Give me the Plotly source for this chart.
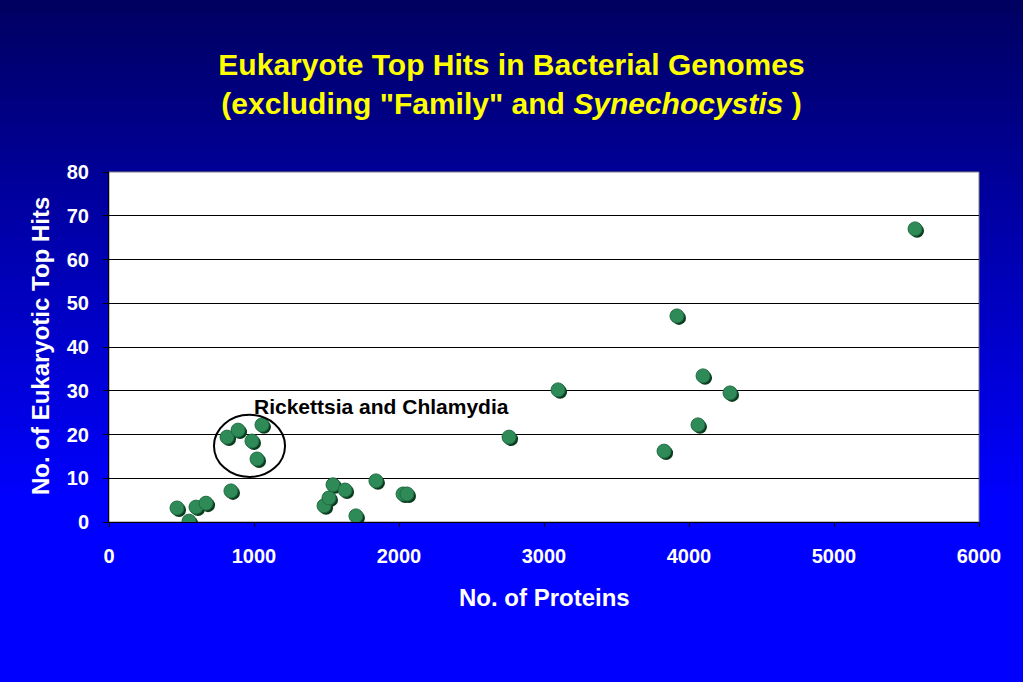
import plotly.graph_objects as go

# Data
proteins = [469, 552, 600, 669, 841, 814, 890, 986, 1021, 1055,
            1483, 1517, 1545, 1628, 1703, 1841, 2028, 2055,
            2759, 3097, 3828, 3917, 4062, 4097, 4283, 5559]
euk_hits = [3.2, 0.2, 3.4, 4.3, 7.1, 19.4, 21.0, 18.5, 14.4, 22.2,
            3.7, 5.5, 8.5, 7.3, 1.4, 9.4, 6.4, 6.4,
            19.4, 30.2, 16.2, 47.1, 22.2, 33.4, 29.5, 67.0]
x_ticks = [0, 1000, 2000, 3000, 4000, 5000, 6000]
y_ticks = [0, 10, 20, 30, 40, 50, 60, 70, 80]

W, H = 1023, 682
ML, MR, MT, MB = 109, 44, 172, 160
PW = W - ML - MR
PH = H - MT - MB

FONT = "Liberation Sans, Arial, sans-serif"

fig = go.Figure()

# shadow
fig.add_trace(go.Scatter(
    x=[v + 14 for v in proteins], y=[v - 0.45 for v in euk_hits],
    mode="markers", hoverinfo="skip",
    marker=dict(size=14, color="#0b3b1e", line=dict(width=0)),
))
fig.add_trace(go.Scatter(
    x=proteins, y=euk_hits, mode="markers",
    marker=dict(size=14, color="#2e8b57", line=dict(width=1, color="#1f6b40")),
))

# gradient background bands (paper coords)
shapes = []
n = 70
grad_end = 500  # pixel where it becomes pure blue
top_rgb = (0, 0, 96)
bot_rgb = (0, 0, 255)
for i in range(n):
    p0 = grad_end * i / n
    p1 = grad_end * (i + 1) / n + 1
    t = (i + 0.5) / n
    c = tuple(int(round(top_rgb[k] + (bot_rgb[k] - top_rgb[k]) * t)) for k in range(3))
    shapes.append(dict(type="rect", xref="paper", yref="paper",
                       x0=-1, x1=2,
                       y0=(H - MB - p1) / PH, y1=(H - MB - p0) / PH,
                       fillcolor="rgb(%d,%d,%d)" % c, line=dict(width=0), layer="below"))
shapes.append(dict(type="rect", xref="paper", yref="paper", x0=-1, x1=2,
                   y0=-2, y1=(H - MB - grad_end) / PH,
                   fillcolor="rgb(0,0,255)", line=dict(width=0), layer="below"))
# white plot area
shapes.append(dict(type="rect", xref="paper", yref="paper", x0=0, x1=1, y0=0, y1=1,
                   fillcolor="white", line=dict(width=1, color="#808080"), layer="below"))
# ellipse highlight
shapes.append(dict(type="circle", xref="x", yref="y", x0=724, x1=1214, y0=10.3, y1=24.5,
                   line=dict(color="black", width=2), fillcolor="rgba(0,0,0,0)"))

fig.update_layout(
    width=W, height=H,
    margin=dict(l=ML, r=MR, t=MT, b=MB),
    paper_bgcolor="rgb(0,0,255)", plot_bgcolor="white",
    showlegend=False,
    shapes=shapes,
    title=dict(
        text='Eukaryote Top Hits in Bacterial Genomes<br>(excluding "Family" and <i>Synechocystis</i> )',
        x=0.5, xanchor="center", xref="container",
        y=1 - 75 / H, yanchor="middle", yref="container",
        font=dict(family=FONT, size=30, color="#ffff00", weight="bold"),
    ),
    font=dict(family=FONT, color="white"),
    annotations=[
        dict(text="<b>Rickettsia and Chlamydia</b>", x=986, y=26.5, xref="x", yref="y",
             xanchor="left", yanchor="middle", showarrow=False,
             font=dict(family=FONT, size=21, color="black")),
        dict(text="<b>No. of Proteins</b>", x=(544 - ML) / PW, y=(H - MB - 597) / PH,
             xref="paper", yref="paper", xanchor="center", yanchor="middle",
             showarrow=False, font=dict(family=FONT, size=24, color="white")),
        dict(text="<b>No. of Eukaryotic Top Hits</b>", x=(40 - ML) / PW, y=(H - MB - 346) / PH,
             xref="paper", yref="paper", xanchor="center", yanchor="middle",
             textangle=-90, showarrow=False, font=dict(family=FONT, size=24, color="white")),
    ],
)

fig.update_xaxes(
    range=[0, 6000], tickvals=x_ticks, ticktext=[str(v) for v in x_ticks],
    showgrid=False, zeroline=False, showline=True, linecolor="black", linewidth=1,
    ticks="outside", ticklen=4, tickcolor="black", ticklabelstandoff=12,
    tickfont=dict(family=FONT, size=20, color="white", weight="bold"),
)
fig.update_yaxes(
    range=[0, 80], tickvals=y_ticks, ticktext=[str(v) for v in y_ticks],
    showgrid=True, gridcolor="black", gridwidth=1, zeroline=False,
    showline=True, linecolor="black", linewidth=1,
    ticks="outside", ticklen=5, tickcolor="black", ticklabelstandoff=10,
    tickfont=dict(family=FONT, size=20, color="white", weight="bold"),
)

fig.write_html("out.html", config={"displayModeBar": False},
               post_script="document.body.style.margin='0';document.body.style.padding='0';")
